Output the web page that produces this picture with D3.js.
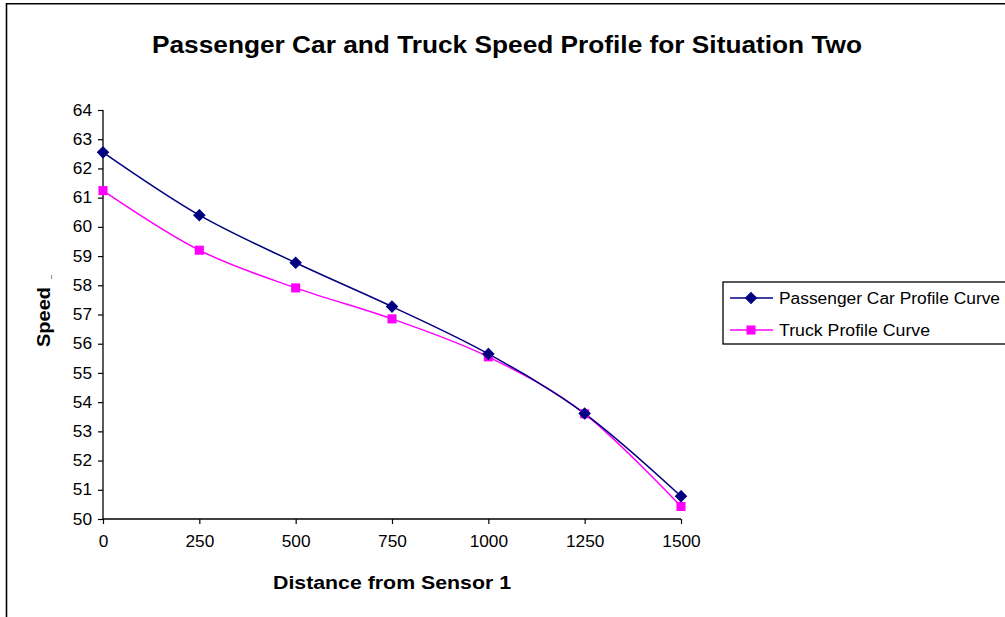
<!DOCTYPE html>
<html>
<head>
<meta charset="utf-8">
<script src="https://cdn.jsdelivr.net/npm/d3@7"></script>
<style>
  body { margin: 0; background: #fff; }
  svg { display: block; font-family: "Liberation Sans", Arial, sans-serif; }
</style>
</head>
<body>
<svg width="1005" height="617"></svg>
<script>
  // data
  const distances = [0, 250, 500, 750, 1000, 1250, 1500];
  const carSpeeds = [62.55, 60.4, 58.77, 57.27, 55.65, 53.61, 50.78];
  const truckSpeeds = [61.24, 59.2, 57.91, 56.85, 55.55, 53.6, 50.43];
  const xTicks = [0, 250, 500, 750, 1000, 1250, 1500];
  const yTicks = [50, 51, 52, 53, 54, 55, 56, 57, 58, 59, 60, 61, 62, 63, 64];
  const seriesNames = ['Passenger Car Profile Curve', 'Truck Profile Curve'];

  const font = '"Liberation Sans", Arial, sans-serif';
  const svg = d3.select('svg');

  const x = d3.scaleLinear().domain([0, 1500]).range([103, 681]);
  const y = d3.scaleLinear().domain([50, 64]).range([519, 110]);

  // outer frame (runs off the right and bottom edges)
  svg.append('path')
      .attr('d', 'M6.5,620 V3.75 H1010')
      .attr('fill', 'none')
      .attr('stroke', '#000')
      .attr('stroke-width', 1.6);

  svg.append('text')
      .attr('x', 507).attr('y', 53)
      .attr('text-anchor', 'middle')
      .attr('font-family', font)
      .attr('font-size', 23).attr('font-weight', 'bold')
      .attr('textLength', 710).attr('lengthAdjust', 'spacingAndGlyphs')
      .text('Passenger Car and Truck Speed Profile for Situation Two');

  // axes
  const yAxis = svg.append('g')
      .attr('transform', 'translate(103,0)')
      .call(d3.axisLeft(y).tickValues(yTicks).tickSize(5).tickPadding(6));
  const xAxis = svg.append('g')
      .attr('transform', 'translate(0,519)')
      .call(d3.axisBottom(x).tickValues(xTicks).tickFormat(d3.format('d')).tickSize(5).tickPadding(12));

  [yAxis, xAxis].forEach(g => {
    g.select('.domain').attr('stroke', '#000').attr('stroke-width', 1.3);
    g.selectAll('.tick line').attr('stroke', '#000').attr('stroke-width', 1.2);
    g.selectAll('.tick text')
        .attr('font-size', 16)
        .attr('font-family', font)
        .attr('fill', '#000')
        .attr('textLength', d => String(d).length * 9.6)
        .attr('lengthAdjust', 'spacingAndGlyphs');
  });
  xAxis.select('.domain').attr('d', 'M103,0H681');
  yAxis.select('.domain').attr('d', 'M0,110V519');

  svg.append('text')
      .attr('x', 392).attr('y', 589)
      .attr('text-anchor', 'middle')
      .attr('font-family', font)
      .attr('font-size', 18).attr('font-weight', 'bold')
      .attr('textLength', 238).attr('lengthAdjust', 'spacingAndGlyphs')
      .text('Distance from Sensor 1');

  const yLabel = svg.append('text')
      .attr('transform', 'translate(50,347) rotate(-90)')
      .attr('font-family', font)
      .attr('font-size', 18).attr('font-weight', 'bold');
  yLabel.append('tspan')
      .attr('textLength', 60).attr('lengthAdjust', 'spacingAndGlyphs')
      .text('Speed');
  yLabel.append('tspan')
      .attr('dx', 8).attr('font-size', 7).attr('font-weight', 'normal')
      .text('_');

  // lines
  const line = d3.line()
      .x((d, i) => x(distances[i]))
      .y(d => y(d))
      .curve(d3.curveCatmullRom.alpha(0));

  const series = [
    { name: seriesNames[0], values: carSpeeds, color: '#000080', symbol: d3.symbolDiamond2, size: 75, width: 221 },
    { name: seriesNames[1], values: truckSpeeds, color: '#ff00ff', symbol: d3.symbolSquare2, size: 105, width: 151 }
  ];

  // draw truck under car
  series.slice().reverse().forEach(s => {
    svg.append('path')
        .attr('d', line(s.values))
        .attr('fill', 'none')
        .attr('stroke', s.color)
        .attr('stroke-width', 1.5);
  });
  series.slice().reverse().forEach(s => {
    svg.append('g').selectAll('path')
      .data(s.values)
      .join('path')
        .attr('transform', (d, i) => `translate(${x(distances[i])},${y(d)})`)
        .attr('d', d3.symbol(s.symbol, s.size))
        .attr('fill', s.color)
        .attr('stroke', s.symbol === d3.symbolDiamond2 ? s.color : 'none')
        .attr('stroke-width', s.symbol === d3.symbolDiamond2 ? 1.2 : 0);
  });

  // legend
  const legend = svg.append('g');
  legend.append('rect')
      .attr('x', 723).attr('y', 282)
      .attr('width', 300).attr('height', 62)
      .attr('fill', '#fff')
      .attr('stroke', '#000')
      .attr('stroke-width', 1.3);

  series.forEach((s, i) => {
    const ly = 298 + i * 32;
    legend.append('line')
        .attr('x1', 730).attr('x2', 773)
        .attr('y1', ly).attr('y2', ly)
        .attr('stroke', s.color).attr('stroke-width', 1.5);
    legend.append('path')
        .attr('transform', `translate(751,${ly})`)
        .attr('d', d3.symbol(s.symbol, s.size))
        .attr('fill', s.color)
        .attr('stroke', s.symbol === d3.symbolDiamond2 ? s.color : 'none')
        .attr('stroke-width', 1.2);
    legend.append('text')
        .attr('x', 779).attr('y', ly + 5.5)
        .attr('font-family', font)
        .attr('font-size', 16)
        .attr('textLength', s.width).attr('lengthAdjust', 'spacingAndGlyphs')
        .text(s.name);
  });
</script>
</body>
</html>
